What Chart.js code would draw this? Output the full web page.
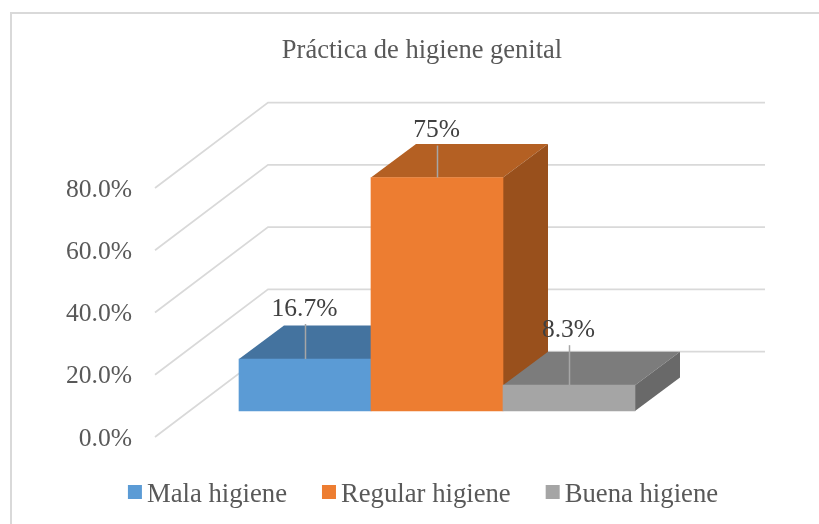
<!DOCTYPE html>
<html lang="es">
<head>
  <meta charset="UTF-8" />
  <title>Práctica de higiene genital</title>
  <script src="https://cdn.jsdelivr.net/npm/chart.js"></script>
  <style>
    body { margin: 0; background: #fff; }
    canvas { display: block; }
  </style>
</head>
<body>
  <canvas id="hygieneChart" width="819" height="524"></canvas>

  <script>
    const chartTitle = 'Práctica de higiene genital';
    const categories = ['Mala higiene', 'Regular higiene', 'Buena higiene'];
    const values = [16.7, 75, 8.3];
    const valueLabels = ['16.7%', '75%', '8.3%'];
    const frontColors = ['#5b9bd5', '#ed7d31', '#a5a5a5'];
    const topColors = ['#44739f', '#b46023', '#7c7c7c'];
    const sideColors = ['#3b6a94', '#99501c', '#696969'];

    const FONT = '"Liberation Serif", "Times New Roman", serif';

    // Fake 3D: how far the walls and the bar tops recede
    const wallDepth = { x: 113, y: 85.5 };
    const barDepth = { x: 45, y: 33.5 };
    // Leader line height and label height above each bar top
    const leaderLift = [35, 32, 40];
    const labelLift = [50, 47, 55];

    function polygon(ctx, points, color) {
      ctx.fillStyle = color;
      ctx.beginPath();
      points.forEach((p, i) => i ? ctx.lineTo(p[0], p[1]) : ctx.moveTo(p[0], p[1]));
      ctx.closePath();
      ctx.fill();
    }

    const fake3d = {
      id: 'fake3d',
      beforeDraw(chart) {
        // Outer frame, only the left and top edges are in the picture
        const ctx = chart.ctx;
        ctx.save();
        ctx.strokeStyle = '#d9d9d9';
        ctx.lineWidth = 2;
        ctx.beginPath();
        ctx.moveTo(11, 524);
        ctx.lineTo(11, 13);
        ctx.lineTo(819, 13);
        ctx.stroke();
        ctx.restore();
      },
      beforeDatasetsDraw(chart) {
        const ctx = chart.ctx;
        const yAxis = chart.scales.y;
        const bars = chart.getDatasetMeta(0).data;

        // Gridlines: diagonal on the side wall, then flat on the back wall
        ctx.save();
        ctx.strokeStyle = '#d9d9d9';
        ctx.lineWidth = 1.75;
        yAxis.ticks.forEach(tick => {
          const y = yAxis.getPixelForValue(tick.value);
          ctx.beginPath();
          ctx.moveTo(155, y);
          ctx.lineTo(155 + wallDepth.x, y - wallDepth.y);
          ctx.lineTo(765, y - wallDepth.y);
          ctx.stroke();
        });

        // Top and side faces of the bars, the front face is the real bar
        bars.forEach((bar, i) => {
          const left = bar.x - bar.width / 2;
          const right = bar.x + bar.width / 2;
          polygon(ctx, [
            [left, bar.y],
            [left + barDepth.x, bar.y - barDepth.y],
            [right + barDepth.x, bar.y - barDepth.y],
            [right, bar.y]
          ], topColors[i]);
          polygon(ctx, [
            [right, bar.y],
            [right + barDepth.x, bar.y - barDepth.y],
            [right + barDepth.x, bar.base - barDepth.y],
            [right, bar.base]
          ], sideColors[i]);
        });
        ctx.restore();
      },
      afterDatasetsDraw(chart) {
        const ctx = chart.ctx;
        const bars = chart.getDatasetMeta(0).data;
        ctx.save();

        // Data labels with their leader lines
        bars.forEach((bar, i) => {
          ctx.strokeStyle = '#a6a6a6';
          ctx.lineWidth = 1.5;
          ctx.beginPath();
          ctx.moveTo(bar.x + 0.5, bar.y);
          ctx.lineTo(bar.x + 0.5, bar.y - leaderLift[i]);
          ctx.stroke();

          ctx.fillStyle = '#404040';
          ctx.font = '25.5px ' + FONT;
          ctx.textAlign = 'center';
          ctx.textBaseline = 'middle';
          ctx.fillText(valueLabels[i], bar.x - 0.5, bar.y - labelLift[i]);
        });

        // Legend, drawn by hand because the built-in one leaves too big a gap
        const boxSize = 14;
        const boxGap = 5;
        const itemGap = 35;
        ctx.font = '26.7px ' + FONT;
        ctx.textAlign = 'left';
        ctx.textBaseline = 'middle';
        const widths = categories.map(c => ctx.measureText(c).width);
        const total = widths.reduce((a, b) => a + b, 0) +
          categories.length * (boxSize + boxGap) + (categories.length - 1) * itemGap;
        let x = 423 - total / 2;
        categories.forEach((c, i) => {
          ctx.fillStyle = frontColors[i];
          ctx.fillRect(x, 485, boxSize, boxSize);
          ctx.fillStyle = '#595959';
          ctx.fillText(c, x + boxSize + boxGap, 495);
          x += boxSize + boxGap + widths[i] + itemGap;
        });
        ctx.restore();
      }
    };

    new Chart(document.getElementById('hygieneChart'), {
      type: 'bar',
      data: {
        labels: categories,
        datasets: [{
          data: values,
          backgroundColor: frontColors,
          borderWidth: 0,
          barPercentage: 1,
          categoryPercentage: 1,
          yAxisID: 'yBars',
          clip: false
        }]
      },
      plugins: [fake3d],
      options: {
        responsive: false,
        animation: false,
        layout: { padding: { left: 25, right: 0, top: 0, bottom: 87 } },
        plugins: {
          legend: { display: false },
          tooltip: { enabled: false },
          title: {
            display: true,
            text: chartTitle,
            color: '#595959',
            font: { family: FONT, size: 26.5, weight: 'normal' },
            padding: { top: 35, bottom: 121.2 }
          }
        },
        scales: {
          x: { display: false },
          // Axis on the front edge of the side wall
          y: {
            min: 0,
            max: 80,
            grid: { display: false, drawTicks: false, tickLength: 0 },
            border: { display: false },
            afterFit(axis) {
              axis.width = 214;
              axis.paddingTop = 0;
              axis.paddingBottom = 0;
            },
            ticks: {
              stepSize: 20,
              padding: 107,
              labelOffset: 2,
              color: '#595959',
              font: { family: FONT, size: 25.6 },
              callback: v => v.toFixed(1) + '%'
            }
          },
          // Bars stand further in than the axis: same px per unit, zero 26px higher
          yBars: {
            position: 'right',
            min: -8.353,
            max: 71.647,
            grid: { display: false },
            border: { display: false },
            ticks: { display: false },
            afterFit(axis) { axis.width = 184; }
          }
        }
      }
    });
  </script>
</body>
</html>
